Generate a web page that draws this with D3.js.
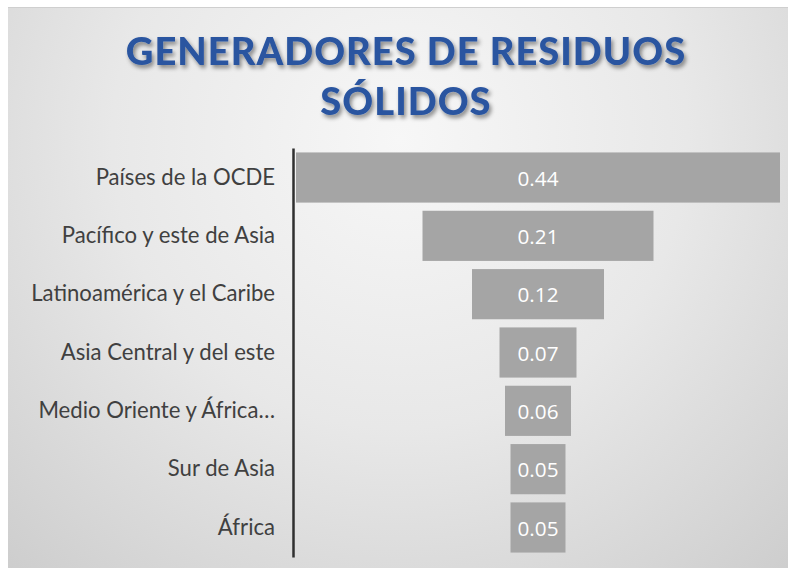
<!DOCTYPE html>
<html>
<head>
<meta charset="utf-8">
<script src="https://cdn.jsdelivr.net/npm/d3@7"></script>
<style>
html,body{margin:0;padding:0;background:#fff;}
svg{display:block;}
</style>
</head>
<body>
<svg id="chart" width="788" height="568"></svg>
<script>
const titleLines = ["GENERADORES DE RESIDUOS", "SÓLIDOS"];
const categories = ["Países de la OCDE", "Pacífico y este de Asia", "Latinoamérica y el Caribe", "Asia Central y del este", "Medio Oriente y África…", "Sur de Asia", "África"];
const values = [0.44, 0.21, 0.12, 0.07, 0.06, 0.05, 0.05];
const valueLabels = ["0.44", "0.21", "0.12", "0.07", "0.06", "0.05", "0.05"];

const svg = d3.select("#chart");
const W = 788, H = 568;
const defs = svg.append("defs");
const grad = defs.append("radialGradient").attr("id","bg")
  .attr("gradientUnits","userSpaceOnUse")
  .attr("cx",400).attr("cy",140).attr("r",640);
grad.append("stop").attr("offset","0").attr("stop-color","#f7f7f7");
grad.append("stop").attr("offset","0.45").attr("stop-color","#e8e8e8");
grad.append("stop").attr("offset","1").attr("stop-color","#c8c8c8");
const sh = defs.append("filter").attr("id","shadow").attr("x","-10%").attr("y","-30%").attr("width","120%").attr("height","160%");
sh.append("feDropShadow").attr("dx",2).attr("dy",3).attr("stdDeviation",2)
  .attr("flood-color","#000").attr("flood-opacity",0.45);

svg.append("rect").attr("x",8).attr("y",7).attr("width",W-8).attr("height",H-7).attr("fill","url(#bg)");
svg.append("line").attr("x1",8).attr("x2",W).attr("y1",7.5).attr("y2",7.5).attr("stroke","#cfcfcf").attr("stroke-width",1);

// Title
const title = svg.append("g").attr("filter","url(#shadow)");
const titleBaselines = [65, 115];
const tl = title.selectAll("text").data(titleLines).join("text")
  .attr("x", 406).attr("y", (d,i)=>titleBaselines[i])
  .attr("text-anchor","middle")
  .attr("font-family","Lato, 'Open Sans', sans-serif")
  .attr("font-weight","900")
  .attr("font-size", 36)
  .attr("letter-spacing", 1)
  .attr("fill","#2a55a0")
  .text(d=>d);
{
  const n = tl.nodes()[0];
  const w = n.getComputedTextLength();
  const fs = 36 * 562 / w;
  tl.attr("font-size", fs);
}

// Scales
const cx = 538;
const y = d3.scaleBand().domain(categories).range([148, 557]).paddingInner(0.14).paddingOuter(0.076);
const wScale = d3.scaleLinear().domain([0, 0.44]).range([0, 484]);

const bars = svg.append("g");
bars.selectAll("rect").data(values).join("rect")
  .attr("x", (d)=>cx - wScale(d)/2)
  .attr("y", (d,i)=>y(categories[i]))
  .attr("width", d=>wScale(d))
  .attr("height", y.bandwidth())
  .attr("fill","#a5a5a5");

const vl = bars.selectAll("text").data(values).join("text")
  .attr("x", cx)
  .attr("y", (d,i)=>y(categories[i]) + y.bandwidth()/2 + 1)
  .attr("dy","0.35em")
  .attr("text-anchor","middle")
  .attr("font-family","'Open Sans', Lato, sans-serif")
  .attr("font-size", 20)
  .attr("fill","#ffffff")
  .text((d,i)=>valueLabels[i]);
{
  const w = vl.nodes()[0].getComputedTextLength();
  vl.attr("font-size", 20 * 41 / w);
}

// Axis
const axis = svg.append("g").attr("transform","translate(293,0)")
  .call(d3.axisLeft(y).tickSize(0).tickSizeOuter(0).tickPadding(18));
axis.select(".domain").attr("stroke","#2f2f2f").attr("stroke-width",2.5);
axis.selectAll(".tick text")
  .attr("font-family","Lato, 'Open Sans', sans-serif")
  .attr("font-size", 18)
  .attr("fill","#404040");
{
  const n = axis.selectAll(".tick text").nodes()[2];
  const w = n.getComputedTextLength();
  axis.selectAll(".tick text").attr("font-size", 18 * 244 / w);
}
</script>
</body>
</html>
